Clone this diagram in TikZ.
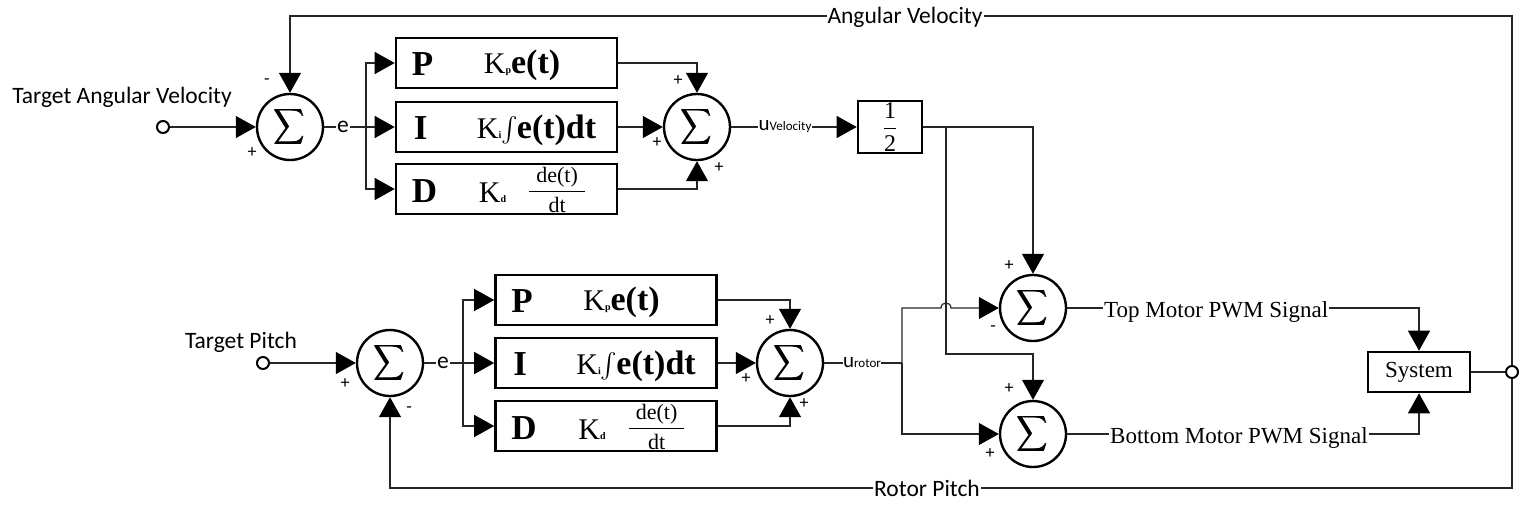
\documentclass[tikz,border=0pt]{standalone}
\usepackage{fix-cm}
\usepackage{amsmath}
\usepackage{fontspec}
\setmainfont{Liberation Serif}
\newfontfamily\carl{Carlito}
\usetikzlibrary{arrows.meta}
\newcommand\sumsym{\scalebox{0.85}[1]{\fontsize{25}{25}\selectfont$\displaystyle\pmb{\sum}$}}
\newcommand\subsm[1]{{\fontsize{10}{10}\selectfont\bfseries #1}}
\newcommand\kexpP{{\fontsize{30}{30}\selectfont K}\subsm{p}{\fontsize{34}{34}\selectfont\bfseries e(t)}}
\newcommand\kexpI{{\fontsize{30}{30}\selectfont K}\subsm{i}{\fontsize{32}{32}\selectfont$\int$}\kern-1pt{\fontsize{34}{34}\selectfont\bfseries e(t)dt}}
\newcommand\kexpD{{\fontsize{30}{30}\selectfont K}\subsm{d}\hspace{22pt}\raisebox{5pt}{\fontsize{22}{22}\selectfont$\displaystyle\frac{\mbox{\hspace{7pt}de(t)\hspace{7pt}}}{\mbox{dt}}$}}
\begin{document}
\begin{tikzpicture}[x=1pt,y=-1pt,
  wire/.style={line width=1.2pt, draw=black!85},
  arr/.style={wire, -{Triangle[length=20pt,width=22pt,color=black]}},
  sumnode/.style={circle, draw, line width=2.4pt, minimum size=66pt, inner sep=0pt},
  blk/.style={draw, line width=2.6pt, minimum width=221pt, minimum height=50pt, inner sep=0pt},
  port/.style={circle, draw, line width=2pt, minimum size=12pt, inner sep=0pt, fill=white},
  sgn/.style={font=\carl\fontsize{18}{18}\selectfont, inner sep=0pt},
  lbl/.style={font=\carl\fontsize{23.5}{23.5}\selectfont, fill=white, inner sep=1pt},
  tlbl/.style={font=\fontsize{23}{23}\selectfont, fill=white, inner sep=1pt},
  pidl/.style={font=\fontsize{35}{35}\selectfont\bfseries, inner sep=0pt, anchor=base west},
  pide/.style={inner sep=0pt, anchor=base west}]
\useasboundingbox (0,0) rectangle (1522,507);

% ---------- top loop (angular velocity) ----------
\node[port] (in1) at (163,127) {};
\node[lbl, anchor=base, fill=none] (t1) at (122,103) {Target Angular Velocity};
\node[sumnode] (sum1) at (290,127) {\sumsym};
\coordinate (br1) at (366,127);

\node[blk] (P1) at (506.5,63) {};
\node[pidl] (P1L) at ([xshift=17pt,yshift=-12pt]P1.west) {P};
\node[pide] (P1E) at ([xshift=89pt,yshift=-10pt]P1.west) {\kexpP};
\node[blk] (I1) at (506.5,127) {};
\node[pidl] (I1L) at ([xshift=19pt,yshift=-12pt]I1.west) {I};
\node[pide] (I1E) at ([xshift=82pt,yshift=-11pt]I1.west) {\kexpI};
\node[blk] (D1) at (506.5,189) {};
\node[pidl] (D1L) at ([xshift=17pt,yshift=-13pt]D1.west) {D};
\node[pide] (D1E) at ([xshift=84pt,yshift=-13pt]D1.west) {\kexpD};

\node[sumnode] (sum2) at (697,127) {\sumsym};
\node[draw, line width=2.6pt, minimum width=64pt, minimum height=52pt, inner sep=0pt] (half) at (890,127) {\fontsize{24}{24}\selectfont$\displaystyle\frac{\mbox{1}}{\mbox{2}}$};
\coordinate (br3) at (946,127);
\coordinate (k1) at (946,354);

% ---------- bottom loop (pitch) ----------
\node[port] (in2) at (263,363) {};
\node[lbl, anchor=base, fill=none] (t2) at (241,348) {Target Pitch};
\node[sumnode] (sum1b) at (390,363) {\sumsym};
\coordinate (br2) at (463,363);

\node[blk] (P2) at (606,300) {};
\node[pidl] (P2L) at ([xshift=17pt,yshift=-12pt]P2.west) {P};
\node[pide] (P2E) at ([xshift=89pt,yshift=-10pt]P2.west) {\kexpP};
\node[blk] (I2) at (606,363) {};
\node[pidl] (I2L) at ([xshift=19pt,yshift=-12pt]I2.west) {I};
\node[pide] (I2E) at ([xshift=82pt,yshift=-11pt]I2.west) {\kexpI};
\node[blk] (D2) at (606,426) {};
\node[pidl] (D2L) at ([xshift=17pt,yshift=-13pt]D2.west) {D};
\node[pide] (D2E) at ([xshift=84pt,yshift=-13pt]D2.west) {\kexpD};

\node[sumnode] (sum2b) at (790,363) {\sumsym};
\coordinate (br4) at (902,363);
\coordinate (h0) at (902,308);
\coordinate (h1) at (941,308);
\coordinate (h2) at (951,308);

% ---------- motor mixing and system ----------
\node[sumnode] (sumT) at (1033,308) {\sumsym};
\node[sumnode] (sumB) at (1033,434) {\sumsym};
\node[tlbl, anchor=base west, fill=none] (topsig) at (1103,317) {Top Motor PWM Signal};
\node[tlbl, anchor=base west, fill=none] (botsig) at (1109,443) {Bottom Motor PWM Signal};
\node[draw, line width=2.6pt, minimum width=102pt, minimum height=40pt, inner sep=0pt, font=\fontsize{23}{23}\selectfont] (sys) at (1419,372) {System};
\node[port] (out) at (1512,372) {};
\coordinate (tr) at (1512,16);
\coordinate (brc) at (1512,488);

% ---------- connectors ----------
\draw[arr] (in1) -- (sum1);
\draw[wire] (sum1) -- (br1);
\node[lbl] (e1) at (343,127) {e};
\draw[arr] (br1) |- (P1.west);
\draw[arr] (br1) -- (I1);
\draw[arr] (br1) |- (D1.west);
\draw[arr] (P1.east) -| (sum2.north);
\draw[arr] (I1) -- (sum2);
\draw[arr] (D1.east) -| (sum2.south);
\draw[arr] (sum2) -- (half);
\node[lbl, inner sep=0.5pt] (uv) at (785,127) {{\fontsize{21}{21}\selectfont u}{\fontsize{13}{13}\selectfont Velocity}};
\draw[arr] (half.east) -| (sumT.north);
\draw[arr] (br3) -- (k1) -| (sumB.north);

\draw[arr] (in2) -- (sum1b);
\draw[wire] (sum1b) -- (br2);
\node[lbl] (e2) at (443,363) {e};
\draw[arr] (br2) |- (P2.west);
\draw[arr] (br2) -- (I2);
\draw[arr] (br2) |- (D2.west);
\draw[arr] (P2.east) -| (sum2b.north);
\draw[arr] (I2) -- (sum2b);
\draw[arr] (D2.east) -| (sum2b.south);
\draw[wire] (sum2b) -- (br4);
\node[lbl, inner sep=0.5pt] (ur) at (862,363) {{\fontsize{21}{21}\selectfont u}{\fontsize{13}{13}\selectfont rotor}};
\draw[arr] (br4) -- (h0) -- (h1) .. controls (941,301.3) and (951,301.3) .. (h2) -- (sumT);
\draw[arr] (br4) |- (sumB);

\draw[wire] (sumT) -- (sumT -| topsig.west);
\draw[arr] (topsig.east |- sumT) -| (sys.north);
\draw[wire] (sumB) -- (sumB -| botsig.west);
\draw[arr] (botsig.east |- sumB) -| (sys.south);
\draw[wire] (sys) -- (out);

\draw[arr] (out.north) -- (tr) -| (sum1.north);
\node[lbl] (av) at (905,17) {Angular Velocity};
\draw[arr] (out.south) -- (brc) -| (sum1b.south);
\node[lbl] (rp) at (927,488) {Rotor Pitch};

% ---------- signs ----------
\node[sgn] at (267,82) {-};
\node[sgn] at (252,153) {+};
\node[sgn] at (678,81) {+};
\node[sgn] at (657,143) {+};
\node[sgn] at (719,168) {+};
\node[sgn] at (345,384) {+};
\node[sgn] at (409,410) {-};
\node[sgn] at (770,321) {+};
\node[sgn] at (746,379) {+};
\node[sgn] at (804,404) {+};
\node[sgn] at (1009,266) {+};
\node[sgn] at (993,329) {-};
\node[sgn] at (1009,389) {+};
\node[sgn] at (990,454) {+};
\end{tikzpicture}
\end{document}
